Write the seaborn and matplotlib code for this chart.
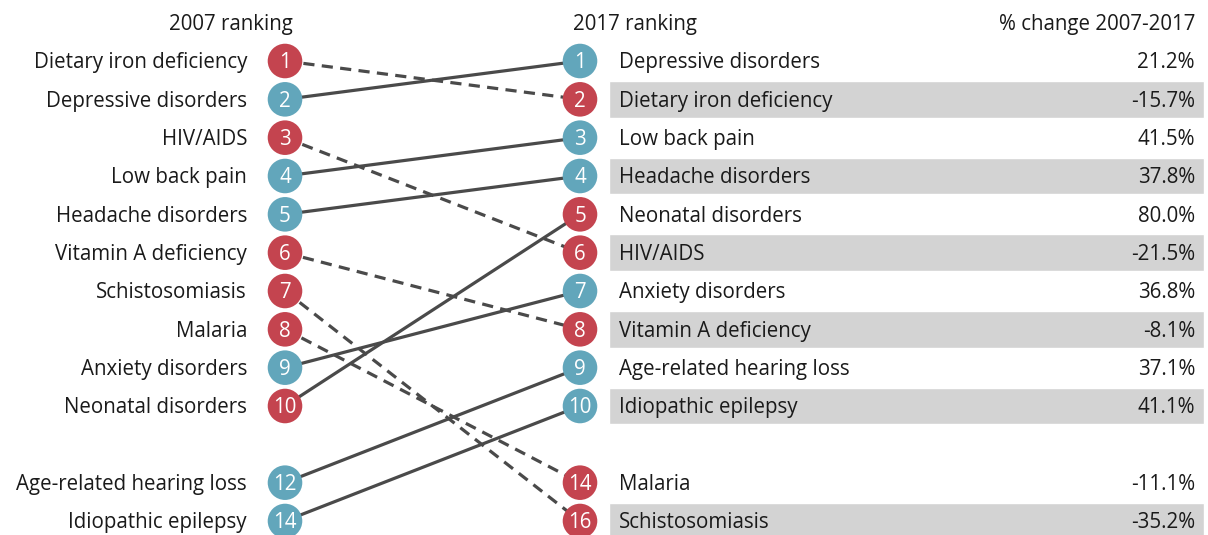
import numpy as np
import pandas as pd
import seaborn as sns
import matplotlib.pyplot as plt

# data
causes = ['Dietary iron deficiency', 'Depressive disorders', 'HIV/AIDS', 'Low back pain',
          'Headache disorders', 'Vitamin A deficiency', 'Schistosomiasis', 'Malaria',
          'Anxiety disorders', 'Neonatal disorders', 'Age-related hearing loss',
          'Idiopathic epilepsy']
groups = ['communicable', 'ncd', 'communicable', 'ncd', 'ncd', 'communicable',
          'communicable', 'communicable', 'ncd', 'communicable', 'ncd', 'ncd']
rank_2007 = [1, 2, 3, 4, 5, 6, 7, 8, 9, 10, 12, 14]
rank_2017 = [2, 1, 6, 3, 4, 8, 16, 14, 7, 5, 9, 10]
pct_change = [-15.7, 21.2, -21.5, 41.5, 37.8, -8.1, -35.2, -11.1, 36.8, 80.0, 37.1, 41.1]

RED = '#c4444f'
BLUE = '#62a6bb'
LINE = '#4a4a4a'
BAND = '#d3d3d3'

X_LEFT, X_RIGHT = 285, 580

sns.set_theme(style='white')
plt.rcParams['font.family'] = ['Open Sans', 'DejaVu Sans']

df = pd.DataFrame({'cause': causes, 'group': groups, 'r07': rank_2007,
                   'r17': rank_2017, 'pct': pct_change})


def slot(ranks):
    # rows 1-10 are consecutive, a blank row separates the rest
    order = pd.Series(ranks).rank(method='first').astype(int)
    return order.where(order <= 10, order + 1)


df['y07'] = slot(df['r07']).values
df['y17'] = slot(df['r17']).values
palette = {'communicable': RED, 'ncd': BLUE}

fig = plt.figure(figsize=(12.08, 5.35), dpi=100)
ax = fig.add_axes([0, 0, 1, 1])
ax.set_xlim(0, 1208)
ax.set_ylim(13 + 14 / 38.33, 1 - 61 / 38.33)
ax.axis('off')

fs = 14.8
TXT = '#1a1a1a'
dy = 0.05  # nudge text down to sit on the row centre

# alternating bands on the right table
right = df.sort_values('r17').reset_index(drop=True)
for i, row in right.iterrows():
    if i % 2 == 1:
        ax.barh(row['y17'], 1204 - 609, left=609, height=0.96, color=BAND, zorder=0)

# connecting lines: dashed when the rank got worse
for _, row in df.iterrows():
    ls = (0, (3.5, 2.3)) if row['r17'] > row['r07'] else '-'
    ax.plot([X_LEFT, X_RIGHT], [row['y07'], row['y17']], color=LINE, lw=2.3,
            ls=ls, zorder=1, solid_capstyle='butt')

pts = pd.concat([
    pd.DataFrame({'x': X_LEFT, 'y': df['y07'], 'rank': df['r07'], 'group': df['group']}),
    pd.DataFrame({'x': X_RIGHT, 'y': df['y17'], 'rank': df['r17'], 'group': df['group']}),
])
sns.scatterplot(data=pts, x='x', y='y', hue='group', palette=palette, s=620,
                linewidth=0, legend=False, ax=ax, zorder=3)
for _, p in pts.iterrows():
    ax.text(p['x'], p['y'] + dy, str(p['rank']), color='white', ha='center', va='center',
            fontsize=fs, zorder=4)

# labels
for _, row in df.iterrows():
    ax.text(247, row['y07'] + dy, row['cause'], ha='right', va='center', fontsize=fs, color=TXT)
    ax.text(619, row['y17'] + dy, row['cause'], ha='left', va='center', fontsize=fs, color=TXT)
    ax.text(1195, row['y17'] + dy, f"{row['pct']:.1f}%", ha='right', va='center', fontsize=fs,
            color=TXT)

ax.text(293, dy, '2007 ranking', ha='right', va='center', fontsize=fs, color=TXT)
ax.text(573, dy, '2017 ranking', ha='left', va='center', fontsize=fs, color=TXT)
ax.text(1195, dy, '% change 2007-2017', ha='right', va='center', fontsize=fs, color=TXT)

fig.savefig('out.png', dpi=100)
